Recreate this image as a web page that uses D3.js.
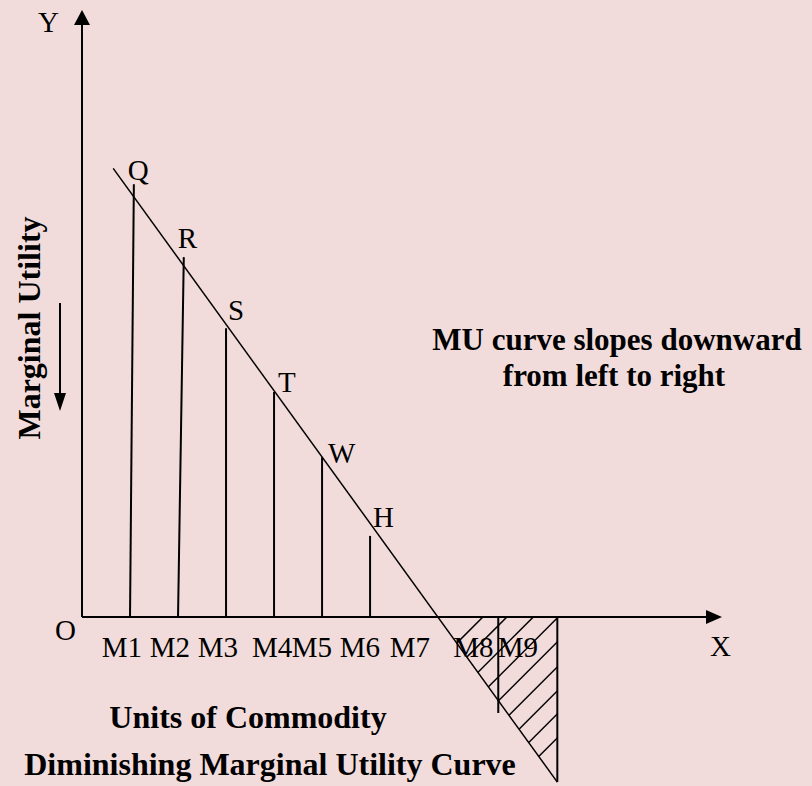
<!DOCTYPE html>
<html>
<head>
<meta charset="utf-8">
<script src="https://cdn.jsdelivr.net/npm/d3@7/dist/d3.min.js"></script>
<style>
  html, body { margin: 0; padding: 0; background: #f2dcdb; }
  svg { display: block; }
  .serif { font-family: 'Liberation Serif', 'Times New Roman', serif; fill: #000; }
  .reg { font-size: 29px; }
  .bold { font-size: 32px; font-weight: bold; }
  .note { font-size: 31px; }
</style>
</head>
<body>
<div id="vis"></div>
<script>
// units of commodity (x) and marginal utility (y)
const pointNames = ["Q", "R", "S", "T", "W", "H"];
const pointUnits = [1, 2, 3, 4, 5, 6];
const pointTopUnits = [1.08, 2.12, 3, 4, 5, 6];
const pointMU = [9.02, 7.5, 6.02, 4.69, 3.33, 1.69];

const negUnits = [8.67, 9.9];
const negMU = [-2.0, -3.44];

const curveUnits = [0.65, 9.9];
const curveMU = [9.35, -3.44];

const tickNames = ["M1", "M2", "M3", "M4", "M5", "M6", "M7", "M8", "M9"];
const tickUnits = [0.83, 1.83, 2.83, 3.96, 4.79, 5.79, 6.83, 8.15, 9.08];

// hatch lines: x - y = k
const hatchK = [8.35, 8.85, 9.4, 9.92, 10.42, 10.94, 11.44, 11.92, 12.42];

const width = 812, height = 786;
const margin = { top: 10, right: 90, bottom: 169, left: 82 };

const svg = d3.select("#vis").append("svg")
    .attr("width", width)
    .attr("height", height);

svg.append("rect")
    .attr("width", width)
    .attr("height", height)
    .attr("fill", "#f2dcdb");

const x = d3.scaleLinear()
    .domain([0, 13.33])
    .range([margin.left, width - margin.right]);

const y = d3.scaleLinear()
    .domain([0, 12.65])
    .range([height - margin.bottom, margin.top]);

const line = d3.line()
    .x(d => x(d[0]))
    .y(d => y(d[1]));

// axes
svg.append("line")
    .attr("x1", x(0)).attr("y1", y(0))
    .attr("x2", x(0)).attr("y2", y(12.65) + 12)
    .attr("stroke", "#000").attr("stroke-width", 2);
svg.append("path")
    .attr("d", `M${x(0)},${y(12.65)} L${x(0) - 8},${y(12.65) + 15} L${x(0) + 8},${y(12.65) + 15} Z`)
    .attr("fill", "#000");

svg.append("line")
    .attr("x1", x(0)).attr("y1", y(0))
    .attr("x2", x(13.33) - 12).attr("y2", y(0))
    .attr("stroke", "#000").attr("stroke-width", 2);
svg.append("path")
    .attr("d", `M${x(13.33)},${y(0)} L${x(13.33) - 16},${y(0) - 7} L${x(13.33) - 16},${y(0) + 7} Z`)
    .attr("fill", "#000");

// hatched area below the axis
const cross = curveUnits[0] + (curveMU[0]) * (curveUnits[1] - curveUnits[0]) / (curveMU[0] - curveMU[1]);
const tri = [[cross, 0], [negUnits[1], 0], [negUnits[1], negMU[1]]];

svg.append("clipPath")
    .attr("id", "tri")
    .append("path")
    .attr("d", line(tri) + "Z");

svg.append("g")
    .attr("clip-path", "url(#tri)")
    .selectAll("path")
    .data(hatchK)
    .join("path")
    .attr("d", k => line([[k - 6, -6], [k + 1, 1]]))
    .attr("stroke", "#000")
    .attr("stroke-width", 1.5)
    .attr("fill", "none");

// MU curve
svg.append("path")
    .attr("d", line(curveUnits.map((u, i) => [u, curveMU[i]])))
    .attr("stroke", "#000")
    .attr("stroke-width", 1.5)
    .attr("fill", "none");

// vertical lines
svg.selectAll(".mu-bar")
    .data(pointUnits)
    .join("line")
    .attr("class", "mu-bar")
    .attr("x1", d => x(d))
    .attr("y1", y(0))
    .attr("x2", (d, i) => x(pointTopUnits[i]))
    .attr("y2", (d, i) => y(pointMU[i]))
    .attr("stroke", "#000")
    .attr("stroke-width", 2);

svg.selectAll(".neg-bar")
    .data(negUnits)
    .join("line")
    .attr("class", "neg-bar")
    .attr("x1", d => x(d))
    .attr("y1", y(0))
    .attr("x2", d => x(d))
    .attr("y2", (d, i) => y(negMU[i]))
    .attr("stroke", "#000")
    .attr("stroke-width", 2);

// point labels, nudged a bit off the line
const nudge = [[-6, -4], [-6, -9], [2, -8], [4, 0], [6, 6], [3, -9]];
svg.selectAll(".pt-label")
    .data(pointNames)
    .join("text")
    .attr("class", "pt-label serif reg")
    .attr("x", (d, i) => x(pointTopUnits[i]) + nudge[i][0])
    .attr("y", (d, i) => y(pointMU[i]) + nudge[i][1])
    .text(d => d);

// unit labels
svg.selectAll(".tick-label")
    .data(tickNames)
    .join("text")
    .attr("class", "tick-label serif reg")
    .attr("text-anchor", "middle")
    .attr("x", (d, i) => x(tickUnits[i]))
    .attr("y", y(0) + 40)
    .text(d => d);

svg.append("text").attr("class", "serif reg")
    .attr("x", x(0) - 27).attr("y", y(0) + 23).text("O");
svg.append("text").attr("class", "serif reg")
    .attr("x", x(0) - 44).attr("y", y(12.65) + 22).text("Y");
svg.append("text").attr("class", "serif reg")
    .attr("x", x(13.33) - 12).attr("y", y(0) + 39).text("X");

// axis titles
svg.append("text").attr("class", "serif bold")
    .attr("text-anchor", "middle")
    .attr("transform", "translate(40,328) rotate(-90)")
    .text("Marginal Utility");

svg.append("line")
    .attr("x1", 60).attr("y1", 303)
    .attr("x2", 60).attr("y2", 396)
    .attr("stroke", "#000").attr("stroke-width", 2);
svg.append("path")
    .attr("d", "M60,411 L54,393 L66,393 Z")
    .attr("fill", "#000");

svg.append("text").attr("class", "serif bold")
    .attr("text-anchor", "middle")
    .attr("x", 248).attr("y", 728)
    .text("Units of Commodity");

svg.append("text").attr("class", "serif bold")
    .attr("text-anchor", "middle")
    .attr("x", 270).attr("y", 775)
    .text("Diminishing Marginal Utility Curve");

svg.append("text").attr("class", "serif bold note")
    .attr("text-anchor", "middle")
    .attr("x", 617).attr("y", 350)
    .text("MU curve slopes downward");
svg.append("text").attr("class", "serif bold note")
    .attr("text-anchor", "middle")
    .attr("x", 614).attr("y", 386)
    .text("from left to right");
</script>
</body>
</html>
